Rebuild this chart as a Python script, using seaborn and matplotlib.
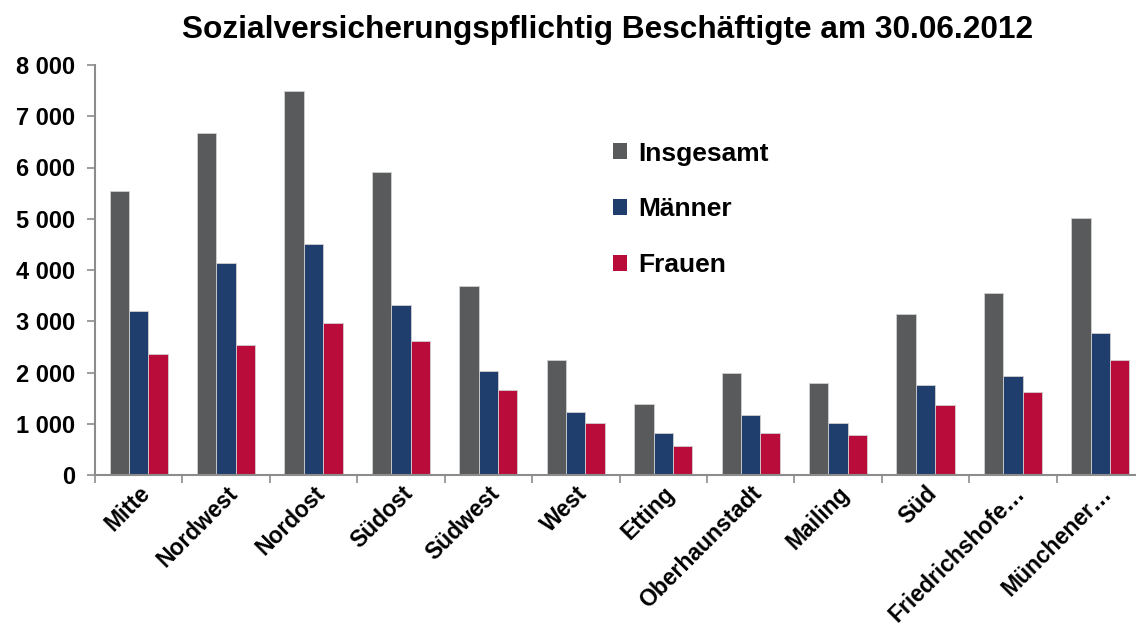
import matplotlib
matplotlib.use("Agg")
import matplotlib.pyplot as plt
import seaborn as sns
import pandas as pd
import numpy as np
from matplotlib.ticker import FuncFormatter, FixedLocator

categories = ["Mitte", "Nordwest", "Nordost", "Südost", "Südwest", "West", "Etting",
              "Oberhaunstadt", "Mailing", "Süd", "Friedrichshofe…", "Münchener…"]
insgesamt = [5550, 6670, 7490, 5910, 3690, 2240, 1380, 2000, 1795, 3135, 3545, 5015]
maenner = [3200, 4140, 4510, 3310, 2025, 1230, 815, 1180, 1015, 1765, 1935, 2765]
frauen = [2355, 2530, 2975, 2610, 1665, 1010, 560, 820, 780, 1372, 1613, 2245]
series = ["Insgesamt", "Männer", "Frauen"]
colors = ["#595A5C", "#1F3E6E", "#BA0C3A"]

df = pd.DataFrame({
    "Stadtbezirk": categories * 3,
    "Wert": insgesamt + maenner + frauen,
    "Gruppe": [series[0]] * 12 + [series[1]] * 12 + [series[2]] * 12,
})

sns.set_theme(style="white")
plt.rcParams['font.family'] = ['Liberation Sans', 'DejaVu Sans']
plt.rcParams['text.color'] = 'black'
plt.rcParams['xtick.color'] = 'black'
plt.rcParams['ytick.color'] = 'black'

fig = plt.figure(figsize=(11.36, 6.27), dpi=100)
ax = fig.add_axes([95/1136, 1 - 475/627, 1049/1136, 410/627])

sns.barplot(data=df, x="Stadtbezirk", y="Wert", hue="Gruppe", hue_order=series,
            palette=colors, width=0.665, ax=ax, edgecolor="#D0D0D0", linewidth=0.6,
            saturation=1)

ax.set_ylim(0, 8000)
ax.set_xlim(-0.5, 11.5)
ax.set_yticks(np.arange(0, 8001, 1000))
ax.yaxis.set_major_formatter(FuncFormatter(lambda v, p: f"{int(v):,}".replace(",", " ")))
ax.set_xlabel("")
ax.set_ylabel("")

for s in ["top", "right"]:
    ax.spines[s].set_visible(False)
for s in ["left", "bottom"]:
    ax.spines[s].set_color("#8C8C8C")
    ax.spines[s].set_linewidth(1.5)

ax.tick_params(axis="y", which="major", length=6, width=1.2, color="#8C8C8C",
               labelcolor="black", labelsize=17, pad=8, left=True)
for lab in ax.get_yticklabels():
    lab.set_fontweight("bold")

ax.xaxis.set_minor_locator(FixedLocator(np.arange(-0.5, 12, 1)))
ax.tick_params(axis="x", which="major", length=0, labelsize=16.5, pad=5, bottom=True,
               labelcolor="black")
ax.tick_params(axis="x", which="minor", length=6, width=1.2, color="#8C8C8C", bottom=True)
ax.set_xticks(range(len(categories)))
ax.set_xticklabels(categories, rotation=45, ha="right", rotation_mode="anchor",
                   fontweight="bold", fontsize=16.5, color="black")

fig.text(0.535, 1 - 30/627, "Sozialversicherungspflichtig Beschäftigte am 30.06.2012",
         ha="center", va="center", fontsize=22.8, fontweight="bold", color="black")

leg = ax.legend(loc="upper left", bbox_to_anchor=(589/1136, 1 - 118/627),
                bbox_transform=fig.transFigure, frameon=False, fontsize=19,
                handlelength=0.55, handleheight=0.55, handletextpad=0.4,
                labelspacing=1.2, title=None)
for t in leg.get_texts():
    t.set_fontweight("bold")
    t.set_color("black")
for h in leg.legend_handles:
    h.set_edgecolor("none")

fig.savefig("out.png", dpi=100)
